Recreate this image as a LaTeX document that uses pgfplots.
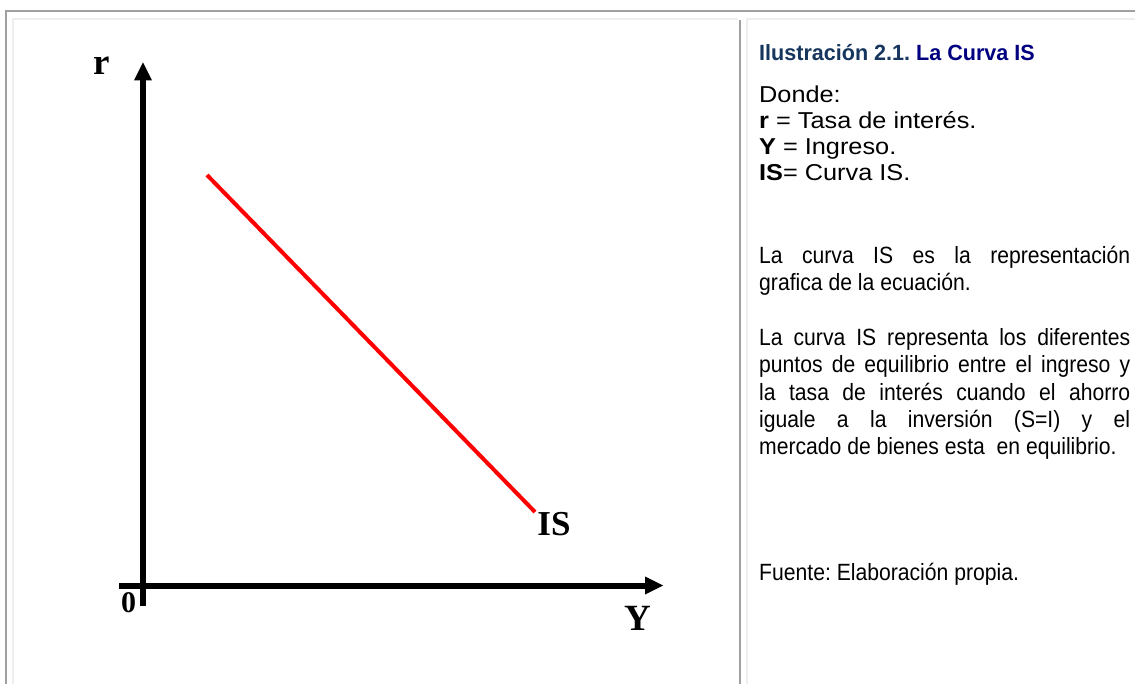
\documentclass[border=0pt]{standalone}
\usepackage{fontspec}
\usepackage{pgfplots}
\pgfplotsset{compat=1.18}
\usetikzlibrary{arrows.meta}
\setmainfont{Liberation Sans}
\newfontfamily\titlefont[FakeStretch=0.98]{Liberation Sans}
\newfontfamily\listfont[FakeStretch=1.1]{Liberation Sans}
\newfontfamily\narrow[FakeStretch=0.9]{Liberation Sans}
\newfontfamily\tnr{Liberation Serif}
\definecolor{framegray}{RGB}{160,160,160}
\definecolor{celllight}{RGB}{238,238,238}
\definecolor{ilcol}{RGB}{23,54,93}
\definecolor{navycol}{RGB}{0,0,128}
\definecolor{isred}{RGB}{255,0,0}
\frenchspacing

\begin{document}
\begin{tikzpicture}[x=1pt,y=1pt]
% page and table frame
\path[use as bounding box,fill=white] (0,0) rectangle (1135,-684);
\draw[framegray,line width=2pt] (6,-684) -- (6,-11) -- (1135,-11);
\draw[celllight,line width=2pt] (13,-684) -- (13,-19) -- (738,-19);
\draw[framegray,line width=2pt] (740,-20) -- (740,-684);
\draw[celllight,line width=2pt] (747,-684) -- (747,-19) -- (1135,-19);

% IS diagram
\begin{axis}[
  at={(119pt,-606pt)}, anchor=south west,
  scale only axis, width=544pt, height=543.5pt,
  xmin=-24, xmax=520, ymin=-20.5, ymax=523,
  axis lines=middle,
  axis line style={black, line width=6pt, -{Triangle[length=18pt,width=18pt,line width=0pt]}},
  xtick=\empty, ytick=\empty,
  clip=false,
]
\addplot[isred, line width=4pt] coordinates {(64,410.5) (392,73.5)};
\node[anchor=base, inner sep=0, font=\tnr\bfseries\fontsize{37}{37}\selectfont] at (axis cs:-41,510.5) {r};
\node[anchor=base, inner sep=0, font=\tnr\bfseries\fontsize{37}{37}\selectfont] at (axis cs:494.5,-44.5) {Y};
\node[anchor=base, inner sep=0, font=\tnr\bfseries\fontsize{35}{35}\selectfont] at (axis cs:411,50.5) {IS};
\node[anchor=base, inner sep=0, font=\tnr\bfseries\fontsize{30}{30}\selectfont] at (axis cs:-14.5,-26.5) {0};
\end{axis}

% caption and notes
\node[anchor=base west, inner sep=0, font=\titlefont\bfseries\fontsize{22}{22}\selectfont\frenchspacing] at (759,-61)
  {\textcolor{ilcol}{Ilustración 2.1.} \textcolor{navycol}{La Curva IS}};
\begin{scope}[every node/.style={anchor=base west, inner sep=0, font=\listfont\fontsize{23}{23}\selectfont\frenchspacing}]
\node at (759,-103) {Donde:};
\node at (759,-129) {\textbf{r} = Tasa de interés.};
\node at (759,-155) {\textbf{Y} = Ingreso.};
\node at (759,-181) {\textbf{IS}= Curva IS.};
\end{scope}
\begin{scope}[every node/.style={anchor=base west, inner sep=0, font=\narrow\fontsize{23.5}{23.5}\selectfont\frenchspacing}]
\node at (759,-264) {\makebox[371pt][s]{La curva IS es la representación}};
\node at (759,-291) {grafica de la ecuación.};
\node at (759,-346) {\makebox[371pt][s]{La curva IS representa los diferentes}};
\node at (759,-373) {\makebox[371pt][s]{puntos de equilibrio entre el ingreso y}};
\node at (759,-400) {\makebox[371pt][s]{la tasa de interés cuando el ahorro}};
\node at (759,-427) {\makebox[371pt][s]{iguale a la inversión (S=I) y el}};
\node at (759,-454) {mercado de bienes esta\ \ en equilibrio.};
\node at (759,-580) {Fuente: Elaboración propia.};
\end{scope}
\end{tikzpicture}
\end{document}
